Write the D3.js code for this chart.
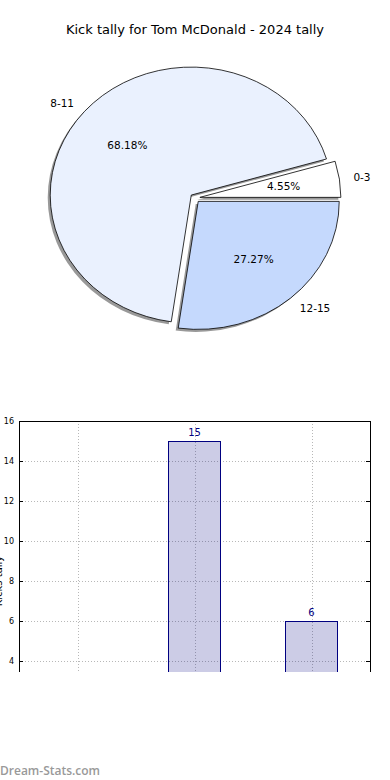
<!DOCTYPE html>
<html>
<head>
<meta charset="utf-8">
<script src="https://cdn.jsdelivr.net/npm/d3@7"></script>
<style>
  body { margin: 0; background: #fff; }
  svg { display: block; font-family: "DejaVu Sans", sans-serif; }
</style>
</head>
<body>
<svg id="chart" width="390" height="780"></svg>
<script>
var title = "Kick tally for Tom McDonald - 2024 tally";
var categories = ["0-3", "8-11", "12-15"];
var tallies = [1, 15, 6];
var sliceColors = ["#ffffff", "#eaf1fe", "#c5d9fd"];
var yTicks = [0, 2, 4, 6, 8, 10, 12, 14, 16];
var yLabel = "Kicks tally";

var svg = d3.select("#chart");

svg.append("text")
    .attr("x", 195)
    .attr("y", 34)
    .attr("text-anchor", "middle")
    .style("font-size", "13px")
    .text(title);

// pie, matplotlib style: counter-clockwise from 3 o'clock, elliptical
var cx = 195, cy = 198, rx = 141, ry = 128, explode = 0.035;
var total = d3.sum(tallies);

var pie = d3.pie().sort(null)
    .startAngle(Math.PI / 2)
    .endAngle(Math.PI / 2 - 2 * Math.PI);
var arcs = pie(tallies);
var arc = d3.arc().innerRadius(0).outerRadius(1);

function mid(d) { return (d.startAngle + d.endAngle) / 2; }
function shift(d) {
    var m = mid(d);
    return "translate(" + (cx + explode * rx * Math.sin(m)) + "," + (cy - explode * ry * Math.cos(m)) + ")";
}

// shadows beneath every wedge
svg.append("g").selectAll("path")
    .data(arcs)
    .enter().append("path")
    .attr("transform", function (d) { return shift(d) + " translate(-2.5,2.5) scale(" + rx + "," + ry + ")"; })
    .attr("d", arc)
    .attr("fill", "#777")
    .attr("opacity", 0.75);

var slices = svg.append("g").selectAll("g")
    .data(arcs)
    .enter().append("g")
    .attr("transform", shift);

slices.append("path")
    .attr("transform", "scale(" + rx + "," + ry + ")")
    .attr("d", arc)
    .attr("fill", function (d, i) { return sliceColors[i]; })
    .attr("stroke", "#000")
    .attr("stroke-width", 0.8)
    .attr("vector-effect", "non-scaling-stroke");

slices.append("text")
    .attr("x", function (d) { return 0.6 * rx * Math.sin(mid(d)); })
    .attr("y", function (d) { return -0.6 * ry * Math.cos(mid(d)); })
    .attr("text-anchor", "middle")
    .attr("dominant-baseline", "central")
    .style("font-size", "10.5px")
    .text(function (d) { return (d.value / total * 100).toFixed(2) + "%"; });

slices.append("text")
    .attr("x", function (d) { return 1.1 * rx * Math.sin(mid(d)); })
    .attr("y", function (d) { return -1.1 * ry * Math.cos(mid(d)); })
    .attr("text-anchor", function (d) { return Math.sin(mid(d)) > 0 ? "start" : "end"; })
    .attr("dominant-baseline", "central")
    .style("font-size", "10.5px")
    .text(function (d, i) { return categories[i]; });

// bar chart, cropped at the bottom
var plotLeft = 19, plotRight = 370, plotTop = 421, plotBottom = 741;

svg.append("clipPath").attr("id", "crop")
    .append("rect").attr("x", -20).attr("y", 400).attr("width", 420).attr("height", 272);

var g = svg.append("g").attr("clip-path", "url(#crop)");

var x = d3.scaleLinear().domain([-0.5, 2.5]).range([plotLeft, plotRight]);
var y = d3.scaleLinear().domain([0, 16]).range([plotBottom, plotTop]);

g.append("g").selectAll("line")
    .data(yTicks)
    .enter().append("line")
    .attr("x1", plotLeft).attr("x2", plotRight)
    .attr("y1", function (d) { return y(d) + 0.5; })
    .attr("y2", function (d) { return y(d) + 0.5; })
    .attr("stroke", "#b8b8b8")
    .attr("stroke-dasharray", "1,2");

g.append("g").selectAll("line")
    .data(categories)
    .enter().append("line")
    .attr("x1", function (d, i) { return Math.round(x(i)) + 0.5; })
    .attr("x2", function (d, i) { return Math.round(x(i)) + 0.5; })
    .attr("y1", plotTop).attr("y2", plotBottom)
    .attr("stroke", "#b8b8b8")
    .attr("stroke-dasharray", "1,2");

g.append("g").selectAll("rect")
    .data(tallies)
    .enter().append("rect")
    .attr("x", function (d, i) { return x(i - 0.225); })
    .attr("width", x(0.45) - x(0))
    .attr("y", function (d) { return y(d); })
    .attr("height", function (d) { return y(0) - y(d); })
    .attr("fill", "rgba(0,0,128,0.2)")
    .attr("stroke", "#000080")
    .attr("stroke-width", 1)
    .attr("shape-rendering", "crispEdges");

g.append("g").selectAll("text")
    .data(tallies)
    .enter().append("text")
    .attr("x", function (d, i) { return x(i); })
    .attr("y", function (d) { return y(d) - 5; })
    .attr("text-anchor", "middle")
    .attr("fill", "#000080")
    .style("font-size", "10px")
    .text(function (d) { return d; });

var yAxis = g.append("g")
    .attr("transform", "translate(" + plotLeft + ",0)")
    .call(d3.axisLeft(y).tickValues(yTicks).tickSize(-4).tickPadding(5));
yAxis.select(".domain").remove();
yAxis.selectAll("text").style("font-size", "8px").style("font-family", "'DejaVu Sans', sans-serif");
yAxis.selectAll("line").attr("stroke", "#000");

var yAxisR = g.append("g")
    .attr("transform", "translate(" + plotRight + ",0)")
    .call(d3.axisRight(y).tickValues(yTicks).tickSize(-4).tickFormat(""));
yAxisR.select(".domain").remove();

g.append("rect")
    .attr("x", plotLeft).attr("y", plotTop)
    .attr("width", plotRight - plotLeft).attr("height", plotBottom - plotTop)
    .attr("fill", "none")
    .attr("stroke", "#000")
    .attr("stroke-width", 1)
    .attr("shape-rendering", "crispEdges");

g.append("text")
    .attr("transform", "translate(2," + ((plotTop + plotBottom) / 2) + ") rotate(-90)")
    .attr("text-anchor", "middle")
    .style("font-size", "10px")
    .text(yLabel);

svg.append("text")
    .attr("x", 0)
    .attr("y", 775)
    .attr("fill", "#999")
    .style("font-family", "'Open Sans', sans-serif")
    .style("font-weight", 600)
    .style("font-size", "12px")
    .text("Dream-Stats.com");
</script>
</body>
</html>
